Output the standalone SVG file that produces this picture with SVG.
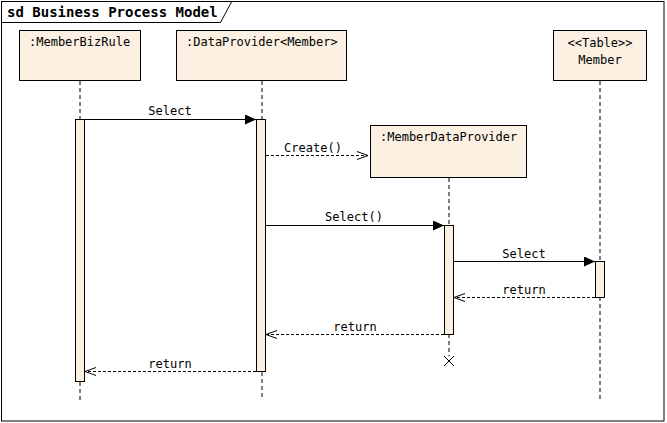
<svg xmlns="http://www.w3.org/2000/svg" width="667" height="423" viewBox="0 0 667 423">
<style>
.box{fill:#FBF0E2;stroke:#000;stroke-width:1}
.act{fill:#FBF0E2;stroke:#000;stroke-width:1}
.life{stroke:#000;stroke-width:1;stroke-dasharray:4,3;fill:none}
.msg{stroke:#000;stroke-width:1;fill:none}
.ret{stroke:#000;stroke-width:1;stroke-dasharray:3,2;fill:none}
text{font-family:"DejaVu Sans Mono","Liberation Mono",monospace;font-size:12px;fill:#000}
.t{font-weight:bold;font-size:14px}
</style>
<defs>
<marker id="solid" markerWidth="12" markerHeight="10" refX="11" refY="5" orient="auto" markerUnits="userSpaceOnUse">
<path d="M0,0 L11,5 L0,10 Z" fill="#000"/>
</marker>
<marker id="open" markerWidth="12" markerHeight="10" refX="11" refY="5" orient="auto" markerUnits="userSpaceOnUse">
<path d="M0,1 L11,5 L0,9" fill="none" stroke="#000"/>
</marker>
</defs>
<rect width="667" height="423" fill="#fff"/>
<g id="frame">
<rect x="1.5" y="1.5" width="662.5" height="419.5" fill="none" stroke="#000"/>
<path d="M1.5,22.5 L220.5,22.5 L231.5,2" fill="none" stroke="#000"/>
<text class="t" x="7" y="17">sd Business Process Model</text>
</g>
<g id="lifelines">
<path class="life" d="M80,81 V119 M80,382 V400"/>
<path class="life" d="M262,81 V119 M262,372 V400"/>
<path class="life" d="M449,178 V225 M449,334 V356"/>
<path class="life" d="M600,81 V261 M600,297 V400"/>
</g>
<g id="n1">
<rect class="box" x="19.5" y="30.5" width="121" height="50"/>
<text x="29" y="46">:MemberBizRule</text>
<rect class="act" x="75.5" y="119.5" width="9" height="262"/>
</g>
<g id="n2">
<rect class="box" x="176.5" y="30.5" width="170" height="50"/>
<text x="186" y="46">:DataProvider&lt;Member&gt;</text>
<rect class="act" x="256.5" y="119.5" width="9" height="252"/>
</g>
<g id="n3">
<rect class="box" x="370.5" y="125.5" width="156" height="52"/>
<text x="380" y="141">:MemberDataProvider</text>
<rect class="act" x="444.5" y="225.5" width="9" height="109"/>
<path d="M444,356 L454,366 M454,356 L444,366" stroke="#000" fill="none"/>
</g>
<g id="n4">
<rect class="box" x="553.5" y="30.5" width="93" height="50"/>
<text x="600" y="47" text-anchor="middle">&lt;&lt;Table&gt;&gt;</text>
<text x="600" y="64" text-anchor="middle">Member</text>
<rect class="act" x="595.5" y="261.5" width="9" height="36"/>
</g>
<g id="connectors">
<path class="msg" d="M85,119.5 H256" marker-end="url(#solid)"/>
<text x="170" y="115" text-anchor="middle">Select</text>
<path class="ret" d="M266,155.5 H368" marker-end="url(#open)"/>
<text x="313" y="152" text-anchor="middle">Create()</text>
<path class="msg" d="M266,225.5 H444" marker-end="url(#solid)"/>
<text x="354" y="221" text-anchor="middle">Select()</text>
<path class="msg" d="M454,261.5 H595" marker-end="url(#solid)"/>
<text x="524" y="258" text-anchor="middle">Select</text>
<path class="ret" d="M595,297.5 H454" marker-end="url(#open)"/>
<text x="524" y="294" text-anchor="middle">return</text>
<path class="ret" d="M444,334.5 H266" marker-end="url(#open)"/>
<text x="355" y="331" text-anchor="middle">return</text>
<path class="ret" d="M256,371.5 H85" marker-end="url(#open)"/>
<text x="170" y="368" text-anchor="middle">return</text>
</g>
</svg>
